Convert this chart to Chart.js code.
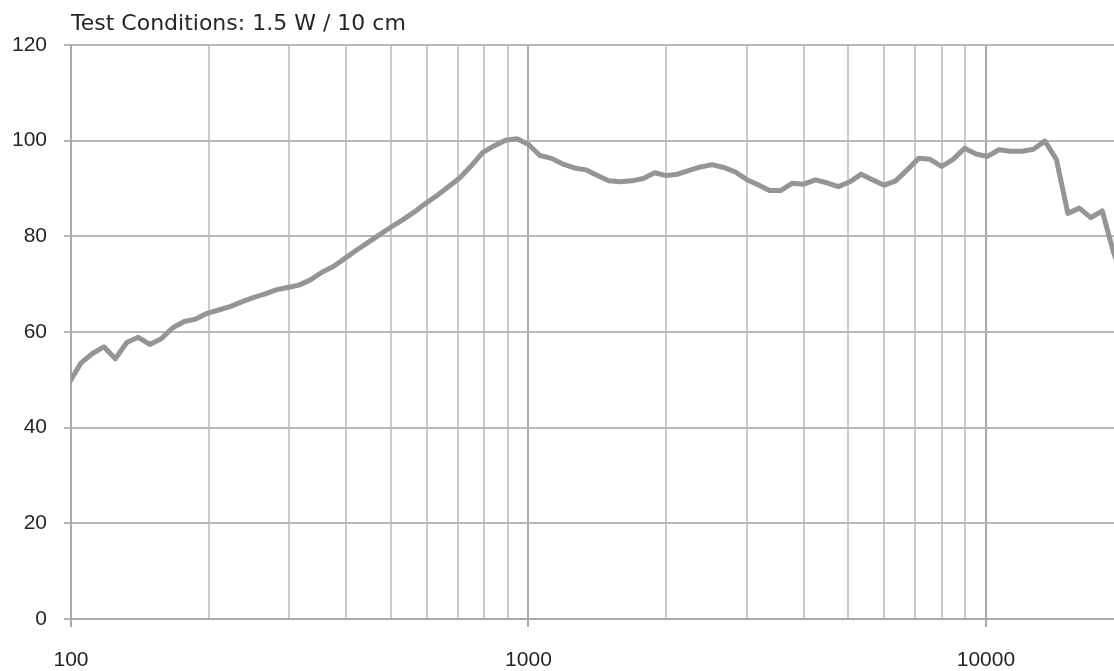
<!DOCTYPE html>
<html>
<head>
<meta charset="utf-8">
<script src="https://cdn.jsdelivr.net/npm/chart.js@4.4.1/dist/chart.umd.min.js"></script>
<style>
  body { margin: 0; background: #fff; }
  #wrap { width: 1114px; height: 671px; }
</style>
</head>
<body>
<div id="wrap"><canvas id="responseChart"></canvas></div>
<script>
// 1/12 octave frequency points (Hz)
const frequencies = [
  99.2, 105.1, 111.4, 118.0, 125.0, 132.4, 140.3, 148.7, 157.5, 166.9, 176.8, 187.3,
  198.4, 210.2, 222.7, 236.0, 250.0, 264.9, 280.6, 297.3, 315.0, 333.7, 353.6, 374.6,
  396.9, 420.4, 445.4, 471.9, 500.0, 529.7, 561.2, 594.6, 630.0, 667.4, 707.1, 749.2,
  793.7, 840.9, 890.9, 943.9, 1000, 1059.5, 1122.5, 1189.2, 1259.9, 1334.8, 1414.2, 1498.3,
  1587.4, 1681.8, 1781.8, 1887.7, 2000, 2119, 2245, 2378, 2520, 2670, 2828, 2997,
  3175, 3364, 3564, 3775, 4000, 4238, 4490, 4757, 5040, 5339, 5657, 5993,
  6350, 6727, 7127, 7551, 8000, 8476, 8980, 9514, 10079, 10678, 11314, 11986,
  12699, 13454, 14254, 15102, 16000, 16951, 17959, 19027, 20159
];

// SPL (dB)
const spl = [
  49.5, 53.5, 55.5, 56.9, 54.4, 57.8, 58.9, 57.4, 58.6, 60.9, 62.2, 62.7,
  63.9, 64.6, 65.3, 66.3, 67.2, 67.9, 68.8, 69.3, 69.8, 70.9, 72.5, 73.7,
  75.4, 77.1, 78.7, 80.3, 81.9, 83.4, 85.0, 86.8, 88.5, 90.3, 92.2, 94.7,
  97.5, 98.9, 100.1, 100.4, 99.2, 96.9, 96.3, 95.1, 94.3, 93.9, 92.7, 91.6,
  91.4, 91.6, 92.1, 93.3, 92.7, 93.0, 93.8, 94.5, 95.0, 94.4, 93.5, 91.9,
  90.8, 89.6, 89.6, 91.1, 90.9, 91.8, 91.2, 90.4, 91.4, 93.0, 91.8, 90.7,
  91.6, 93.9, 96.3, 96.1, 94.6, 96.1, 98.4, 97.2, 96.7, 98.1, 97.8, 97.8,
  98.2, 99.9, 96.1, 84.8, 85.9, 83.9, 85.3, 76.5, 70.0
];

const xGridValues = [100, 200, 300, 400, 500, 600, 700, 800, 900,
  1000, 2000, 3000, 4000, 5000, 6000, 7000, 8000, 9000, 10000];
const xLabels = [100, 1000, 10000];

const isDecade = v => xLabels.includes(v);

const ctx = document.getElementById('responseChart').getContext('2d');

const data = {
  datasets: [{
    label: 'SPL',
    data: frequencies.map((f, i) => ({ x: f, y: spl[i] })),
    borderColor: '#959595',
    borderWidth: 5,
    pointRadius: 0,
    tension: 0,
    borderJoinStyle: 'round'
  }]
};

const config = {
  type: 'line',
  data: data,
  options: {
    responsive: true,
    maintainAspectRatio: false,
    animation: false,
    layout: { padding: 0 },
    plugins: {
      legend: { display: false },
      tooltip: { enabled: false },
      title: {
        display: true,
        text: 'Test Conditions: 1.5 W / 10 cm',
        align: 'start',
        fullSize: false,
        color: '#262626',
        font: { family: 'DejaVu Sans', size: 22, weight: 'normal', lineHeight: 1.2 },
        padding: { top: 11, bottom: 7.6 }
      }
    },
    scales: {
      x: {
        type: 'logarithmic',
        min: 100,
        max: 19050,
        afterBuildTicks: scale => {
          scale.ticks = xGridValues.map(v => ({ value: v }));
        },
        afterFit: scale => { scale.height = 52; },
        border: { color: '#a9a9a9', width: 2 },
        grid: {
          lineWidth: 2,
          tickLength: 8,
          color: c => (c.tick && isDecade(c.tick.value)) ? '#a9a9a9' : '#cbcbcb',
          tickColor: c => (c.tick && isDecade(c.tick.value)) ? '#a9a9a9' : 'rgba(0,0,0,0)'
        },
        ticks: {
          autoSkip: false,
          maxRotation: 0,
          padding: 21,
          color: '#262626',
          font: { family: 'Liberation Sans', size: 21 },
          callback: v => isDecade(v) ? String(v) : ''
        }
      },
      y: {
        min: 0,
        max: 120,
        afterFit: scale => { scale.width = 71; },
        border: { color: '#a9a9a9', width: 2 },
        grid: {
          lineWidth: 2,
          tickLength: 7,
          color: '#b8b8b8'
        },
        ticks: {
          stepSize: 20,
          padding: 17,
          color: '#262626',
          font: { family: 'Liberation Sans', size: 21 }
        }
      }
    }
  }
};

const responseChart = new Chart(ctx, config);
</script>
</body>
</html>
